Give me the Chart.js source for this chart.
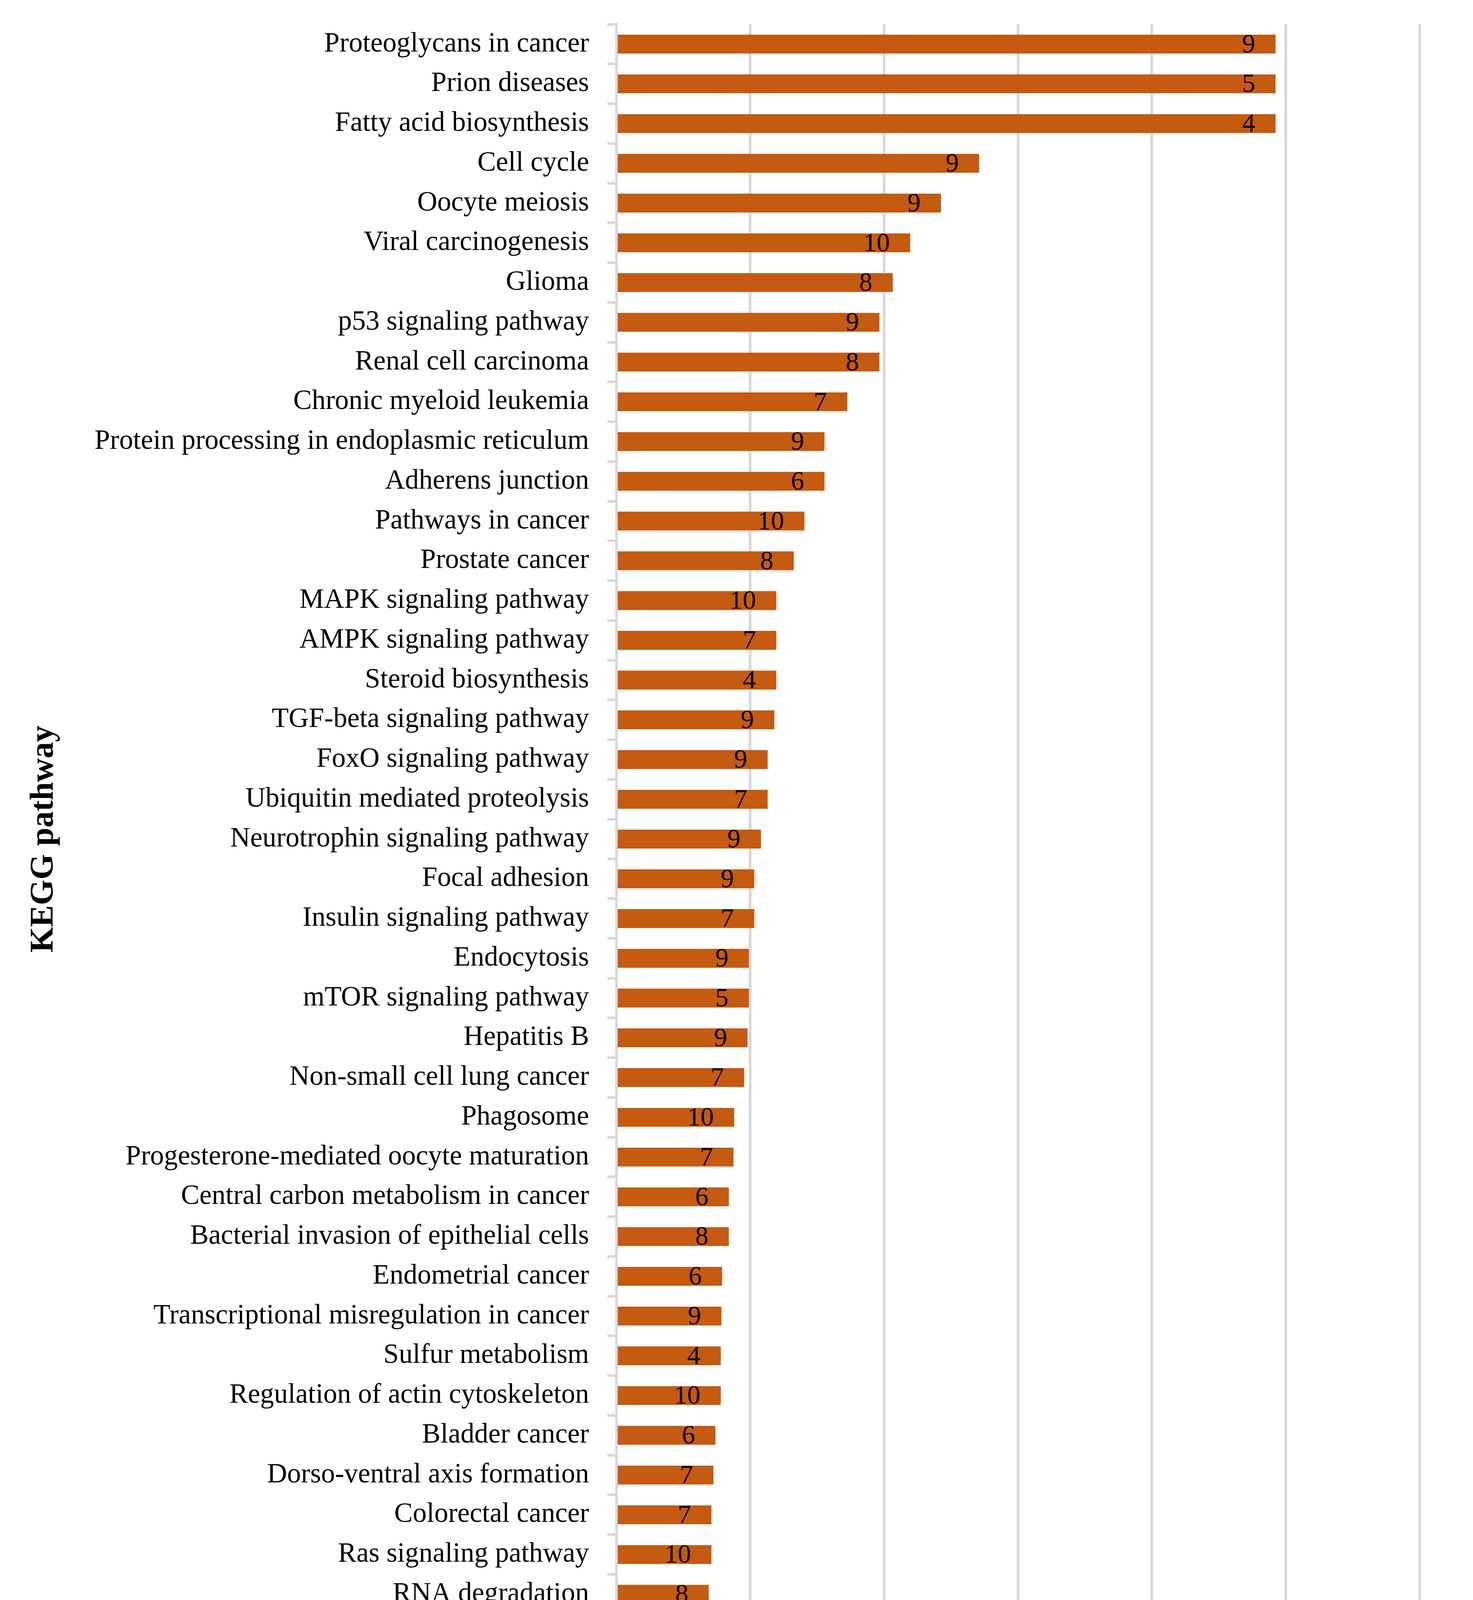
<!DOCTYPE html>
<html>
<head>
<meta charset="utf-8">
<script src="https://cdn.jsdelivr.net/npm/chart.js@4.4.1/dist/chart.umd.min.js"></script>
<style>
  html, body { margin: 0; padding: 0; background: #fff; overflow: hidden; }
  #wrap { width: 3771px; height: 4526px; }
</style>
</head>
<body>
<div id="wrap"><canvas id="keggChart"></canvas></div>
<script>
// KEGG pathways, top to bottom as in the figure
const pathways = [
  'Proteoglycans in cancer', 'Prion diseases', 'Fatty acid biosynthesis', 'Cell cycle',
  'Oocyte meiosis', 'Viral carcinogenesis', 'Glioma', 'p53 signaling pathway',
  'Renal cell carcinoma', 'Chronic myeloid leukemia', 'Protein processing in endoplasmic reticulum',
  'Adherens junction', 'Pathways in cancer', 'Prostate cancer', 'MAPK signaling pathway',
  'AMPK signaling pathway', 'Steroid biosynthesis', 'TGF-beta signaling pathway',
  'FoxO signaling pathway', 'Ubiquitin mediated proteolysis', 'Neurotrophin signaling pathway',
  'Focal adhesion', 'Insulin signaling pathway', 'Endocytosis', 'mTOR signaling pathway',
  'Hepatitis B', 'Non-small cell lung cancer', 'Phagosome', 'Progesterone-mediated oocyte maturation',
  'Central carbon metabolism in cancer', 'Bacterial invasion of epithelial cells',
  'Endometrial cancer', 'Transcriptional misregulation in cancer', 'Sulfur metabolism',
  'Regulation of actin cytoskeleton', 'Bladder cancer', 'Dorso-ventral axis formation',
  'Colorectal cancer', 'Ras signaling pathway', 'RNA degradation', 'Thyroid hormone signaling pathway'
];

// -log10 p-value
const logP = [
  9.85, 9.85, 9.85, 5.42, 4.85, 4.39, 4.13, 3.93, 3.93, 3.45, 3.11,
  3.11, 2.81, 2.65, 2.39, 2.39, 2.39, 2.36, 2.26, 2.26, 2.16,
  2.06, 2.06, 1.98, 1.98, 1.96, 1.91, 1.76, 1.75, 1.68, 1.68,
  1.58, 1.57, 1.56, 1.56, 1.48, 1.45, 1.42, 1.42, 1.38, 1.36
];

// gene counts printed inside the bars
const geneCounts = [
  9, 5, 4, 9, 9, 10, 8, 9, 8, 7, 9,
  6, 10, 8, 10, 7, 4, 9, 9, 7, 9,
  9, 7, 9, 5, 9, 7, 10, 7, 6, 8,
  6, 9, 4, 10, 6, 7, 7, 10, 8, 8
];

const xTickValues = [0, 2, 4, 6, 8, 10, 12];
const xTitleParts = [['-LOG10 ', 'bold'], ['p', 'italic bold'], ['-value', 'bold']];
const yTitle = 'KEGG pathway';

const SERIF = "'Liberation Serif', 'Times New Roman', serif";
const GRID = '#D9D9D9';

// counts inside bar ends + the mixed-style x title
const extras = {
  id: 'extras',
  afterDatasetsDraw(chart) {
    const ctx = chart.ctx;
    const meta = chart.getDatasetMeta(0);
    ctx.save();
    ctx.fillStyle = '#000';
    ctx.font = '68px ' + SERIF;
    ctx.textAlign = 'right';
    ctx.textBaseline = 'middle';
    meta.data.forEach((bar, i) => {
      ctx.fillText(String(geneCounts[i]), bar.x - 52, bar.y + 3);
    });

    const area = chart.chartArea;
    const cx = (area.left + area.right) / 2;
    const cy = chart.scales.x.bottom - 83;
    let total = 0;
    xTitleParts.forEach(([t, st]) => {
      ctx.font = st + ' 85px ' + SERIF;
      total += ctx.measureText(t).width;
    });
    let x = cx - total / 2;
    ctx.textAlign = 'left';
    xTitleParts.forEach(([t, st]) => {
      ctx.font = st + ' 85px ' + SERIF;
      ctx.fillText(t, x, cy);
      x += ctx.measureText(t).width;
    });
    ctx.restore();
  }
};

new Chart(document.getElementById('keggChart'), {
  type: 'bar',
  data: {
    labels: pathways,
    datasets: [{
      data: logP,
      backgroundColor: '#C55A11',
      borderWidth: 0,
      categoryPercentage: 1,
      barPercentage: 0.475
    }]
  },
  options: {
    indexAxis: 'y',
    responsive: true,
    maintainAspectRatio: false,
    devicePixelRatio: 1,
    animation: false,
    layout: { padding: { top: 62, right: 137, left: 0, bottom: 0 } },
    plugins: { legend: { display: false }, tooltip: { enabled: false } },
    scales: {
      x: {
        min: xTickValues[0],
        max: xTickValues[xTickValues.length - 1],
        ticks: {
          stepSize: xTickValues[1] - xTickValues[0],
          font: { family: 'Lato', size: 60 },
          color: '#000',
          padding: 46
        },
        grid: { color: GRID, lineWidth: 7, drawTicks: false },
        border: { display: false },
        afterFit(scale) {
          scale.height = 292;
          scale.paddingLeft = 0;
          scale.paddingRight = 0;
        }
      },
      y: {
        ticks: {
          font: { family: SERIF, size: 71 },
          color: '#000',
          padding: 47,
          autoSkip: false
        },
        grid: {
          offset: true,
          drawOnChartArea: false,
          drawTicks: true,
          tickLength: 23,
          color: GRID,
          lineWidth: 7
        },
        border: { display: true, color: GRID, width: 7 },
        title: {
          display: true,
          text: yTitle,
          color: '#000',
          font: { family: SERIF, size: 84, weight: 'bold', lineHeight: 1 },
          padding: { top: 71, bottom: 0 }
        },
        afterFit(scale) {
          scale.width = 1578;
          scale.paddingTop = 0;
          scale.paddingBottom = 0;
        }
      }
    }
  },
  plugins: [extras]
});
</script>
</body>
</html>
